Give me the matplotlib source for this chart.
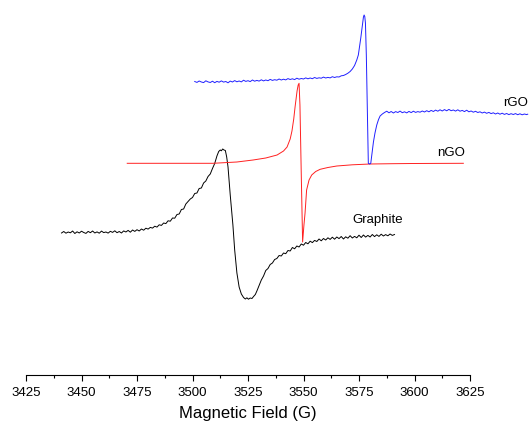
import matplotlib
matplotlib.use('Agg')
import matplotlib.pyplot as plt
import numpy as np

plt.rcParams['font.family'] = ['Liberation Sans', 'DejaVu Sans']

# Graphite spectrum (field in G, intensity in arbitrary offset units)
graphite_x = [3441, 3442, 3443, 3444, 3445, 3446, 3447, 3448, 3449, 3450,
              3451, 3452, 3453, 3454, 3455, 3456, 3457, 3458, 3459, 3460,
              3461, 3462, 3463, 3464, 3465, 3466, 3467, 3468, 3469, 3470,
              3471, 3472, 3473, 3474, 3475, 3476, 3477, 3478, 3479, 3480,
              3481, 3482, 3483, 3484, 3485, 3486, 3487, 3488, 3489, 3490,
              3491, 3492, 3493, 3494, 3495, 3496, 3497, 3498, 3499, 3500,
              3501, 3502, 3503, 3504, 3505, 3506, 3507, 3508, 3509, 3510,
              3511, 3511.8, 3512.5, 3513.0, 3513.6, 3514.2, 3514.8, 3515.4, 3516.0, 3517.0,
              3518.2, 3519.0, 3520.0, 3521.0, 3522.0, 3523.0, 3523.8, 3524.5, 3525.2, 3526.0,
              3526.8, 3527.5, 3528.3, 3529.0, 3530.0, 3531.0, 3532.0, 3533.0, 3534.0, 3535.0,
              3536.0, 3537.0, 3538.0, 3539, 3540, 3541, 3542, 3543, 3544, 3545,
              3546, 3547, 3548, 3549, 3550, 3551, 3552, 3553, 3554, 3555,
              3556, 3557, 3558, 3559, 3560, 3561, 3562, 3563, 3564, 3565,
              3566, 3567, 3568, 3569, 3570, 3571, 3572, 3573, 3574, 3575,
              3576, 3577, 3578, 3579, 3580, 3581, 3582, 3583, 3584, 3585,
              3586, 3587, 3588, 3589, 3590, 3591]
graphite_y = [142.0, 143.5, 141.8, 143.0, 142.2, 144.0, 141.5, 143.2, 142.0, 143.8,
              142.5, 141.6, 143.6, 142.3, 144.0, 142.0, 143.1, 141.8, 143.9, 142.4,
              143.0, 141.9, 143.7, 142.6, 144.2, 142.3, 143.5, 142.0, 144.1, 143.0,
              144.6, 142.8, 145.0, 143.6, 145.3, 144.0, 146.0, 144.8, 146.8, 145.9,
              147.6, 146.9, 148.8, 147.9, 150.2, 149.6, 152.0, 151.4, 154.2, 153.8,
              157.0, 156.8, 160.5, 161.0, 165.5, 166.0, 171.0, 173.5, 176.0, 177.5,
              181.5, 182.0, 186.5, 187.0, 192.0, 194.0, 198.5, 201.0, 206.5, 211.5,
              219.0, 223.5, 225.0, 224.2, 226.0, 225.0, 224.5, 218.0, 208.0, 180.0,
              150.0, 125.0, 102.0, 88.0, 81.0, 77.5, 76.0, 77.2, 75.8, 77.0,
              76.5, 78.5, 80.5, 84.0, 89.5, 95.0, 99.0, 104.5, 106.5, 110.5,
              112.0, 115.5, 116.5, 119.5, 119.0, 122.0, 121.3, 124.5, 124.0, 127.5,
              126.2, 129.0, 128.0, 131.0, 129.8, 132.5, 131.2, 133.8, 132.4, 134.6,
              133.5, 136.0, 134.2, 136.5, 135.0, 137.2, 135.6, 137.8, 135.8, 138.0,
              136.4, 138.5, 136.0, 138.2, 136.8, 139.3, 137.0, 138.6, 137.2, 139.8,
              137.5, 140.0, 137.9, 139.6, 138.0, 140.5, 138.4, 140.2, 138.6, 140.8,
              139.0, 140.4, 139.2, 141.0, 139.6, 140.5]

# nGO spectrum
ngo_x = [3470.6, 3490, 3509.2, 3520, 3527.3, 3533, 3538.1, 3541, 3542.6, 3544,
         3544.8, 3545.6, 3546.2, 3547.1, 3547.6, 3548.0, 3548.4, 3549.0, 3549.6, 3550.2,
         3550.7, 3551.4, 3552.5, 3553.7, 3555.5, 3557.5, 3561, 3565, 3572, 3580,
         3590, 3599.3, 3610, 3622]
ngo_y = [211.7, 211.7, 211.7, 213.0, 215.0, 217.0, 220.0, 224.0, 228.0, 236.0,
         244.0, 256.0, 268.0, 284.0, 290.0, 291.7, 270.0, 200.0, 133.0, 150.0,
         162.0, 185.0, 195.0, 200.0, 203.5, 205.7, 207.5, 209.0, 210.2, 211.0,
         211.3, 211.5, 211.6, 211.7]

# rGO spectrum
rgo_x = [3501, 3502, 3503, 3504, 3505, 3506, 3507, 3508, 3509, 3510,
         3511, 3512, 3513, 3514, 3515, 3516, 3517, 3518, 3519, 3520,
         3521, 3522, 3523, 3524, 3525, 3526, 3527, 3528, 3529, 3530,
         3531, 3532, 3533, 3534, 3535, 3536, 3537, 3538, 3539, 3540,
         3541, 3542, 3543, 3544, 3545, 3546, 3547, 3548, 3549, 3550,
         3551, 3552, 3553, 3554, 3555, 3556, 3557, 3558, 3559, 3560,
         3561, 3562, 3563, 3564, 3565, 3566, 3567, 3568, 3569, 3570,
         3571, 3572, 3573, 3574, 3574.7, 3575.3, 3575.8, 3576.3, 3576.7, 3577.0,
         3577.3, 3577.6, 3577.9, 3578.3, 3578.7, 3579.2, 3579.8, 3580.3, 3580.9, 3581.5,
         3582.2, 3583.0, 3583.8, 3584.5, 3585.5, 3586.5, 3587.5, 3588.5, 3589.5, 3590.5,
         3591.5, 3592.5, 3593.5, 3594.5, 3595.5, 3596.5, 3597.5, 3598.5, 3599.5, 3600.5,
         3601.5, 3602.5, 3603.5, 3604.5, 3605.5, 3606.5, 3607.5, 3608.5, 3609.5, 3610.5,
         3611.5, 3612.5, 3613.5, 3614.5, 3615.5, 3616.5, 3617.5, 3618.5, 3619.5, 3620.5,
         3621.5, 3622.5, 3623.5, 3624.5, 3625.5, 3626.5, 3627.5, 3628.5, 3629.5, 3630.5,
         3631.5, 3632.5, 3633.5, 3634.5, 3635.5, 3636.5, 3637.5, 3638.5, 3639.5, 3640.5,
         3641.5, 3642.5, 3643.5, 3644.5, 3645.5, 3646.5, 3647.5, 3648.5, 3649.5, 3650.5,
         3651.0]
rgo_y = [293.5, 292.6, 294.0, 293.0, 292.4, 294.2, 293.1, 292.5, 293.8, 292.3,
         293.6, 292.8, 294.1, 292.9, 293.5, 292.2, 293.9, 293.0, 294.4, 293.2,
         294.0, 293.1, 294.8, 293.6, 294.3, 293.4, 295.0, 293.8, 294.6, 293.9,
         295.2, 294.1, 295.0, 294.3, 295.6, 294.6, 295.3, 294.8, 296.0, 295.0,
         295.8, 295.1, 296.4, 295.5, 296.2, 295.4, 296.8, 295.8, 296.5, 296.0,
         297.1, 296.2, 297.0, 296.3, 297.5, 296.6, 297.2, 296.8, 297.9, 297.0,
         297.6, 297.1, 298.3, 297.5, 298.2, 298.0, 299.2, 299.5, 300.5, 301.8,
         303.5, 306.0, 309.5, 315.0, 320.0, 329.0, 337.0, 346.0, 353.0, 358.0,
         360.0, 358.5, 352.0, 320.0, 270.0, 211.7, 211.0, 211.7, 222.0, 233.0,
         242.0, 250.0, 255.5, 259.0, 261.0, 262.5, 263.8, 262.2, 263.5, 262.0,
         263.4, 262.5, 263.9, 262.3, 263.2, 262.1, 263.6, 262.4, 263.8, 262.6,
         263.4, 262.8, 264.0, 263.0, 264.3, 263.2, 264.6, 263.5, 264.9, 263.8,
         265.2, 264.0, 265.4, 264.2, 265.6, 264.3, 265.0, 263.9, 265.2, 263.8,
         264.6, 263.4, 264.8, 263.2, 264.0, 262.8, 263.7, 262.5, 263.2, 262.0,
         262.9, 261.7, 262.6, 261.4, 262.2, 261.0, 262.0, 260.8, 261.8, 260.6,
         261.5, 260.4, 261.3, 260.5, 261.4, 260.3, 261.2, 260.2, 261.0, 260.4,
         260.8]

labels = ['rGO', 'nGO', 'Graphite']
label_x = [3645.7, 3616.4, 3583.6]
label_y = [272, 222, 155]

fig = plt.figure(figsize=(5.29, 4.23), dpi=100)
ax = fig.add_axes([26 / 529, 48 / 423, 444 / 529, 370 / 423])

ax.plot(graphite_x, graphite_y, color='black', lw=0.7, clip_on=False)
ax.plot(ngo_x, ngo_y, color='#ff2020', lw=0.7, clip_on=False)
ax.plot(rgo_x, rgo_y, color='#2020ff', lw=0.7, clip_on=False)

for t, lx, ly in zip(labels, label_x, label_y):
    ax.text(lx, ly, t, fontsize=9.5, ha='center', va='center', clip_on=False)

ax.set_xlim(3425, 3625)
ax.set_ylim(0, 370)
ax.set_xticks(np.arange(3425, 3626, 25))
ax.set_xticks(np.arange(3437.5, 3625, 25), minor=True)
ax.tick_params(axis='x', which='major', direction='out', length=4, width=0.8, labelsize=9.5, pad=4.5)
ax.tick_params(axis='x', which='minor', direction='out', length=2, width=0.8)
ax.set_yticks([])
for s in ['left', 'top', 'right']:
    ax.spines[s].set_visible(False)
ax.spines['bottom'].set_linewidth(0.8)
ax.set_xlabel('Magnetic Field (G)', fontsize=12, labelpad=5)
ax.patch.set_visible(False)

plt.savefig('out.png', dpi=100)
